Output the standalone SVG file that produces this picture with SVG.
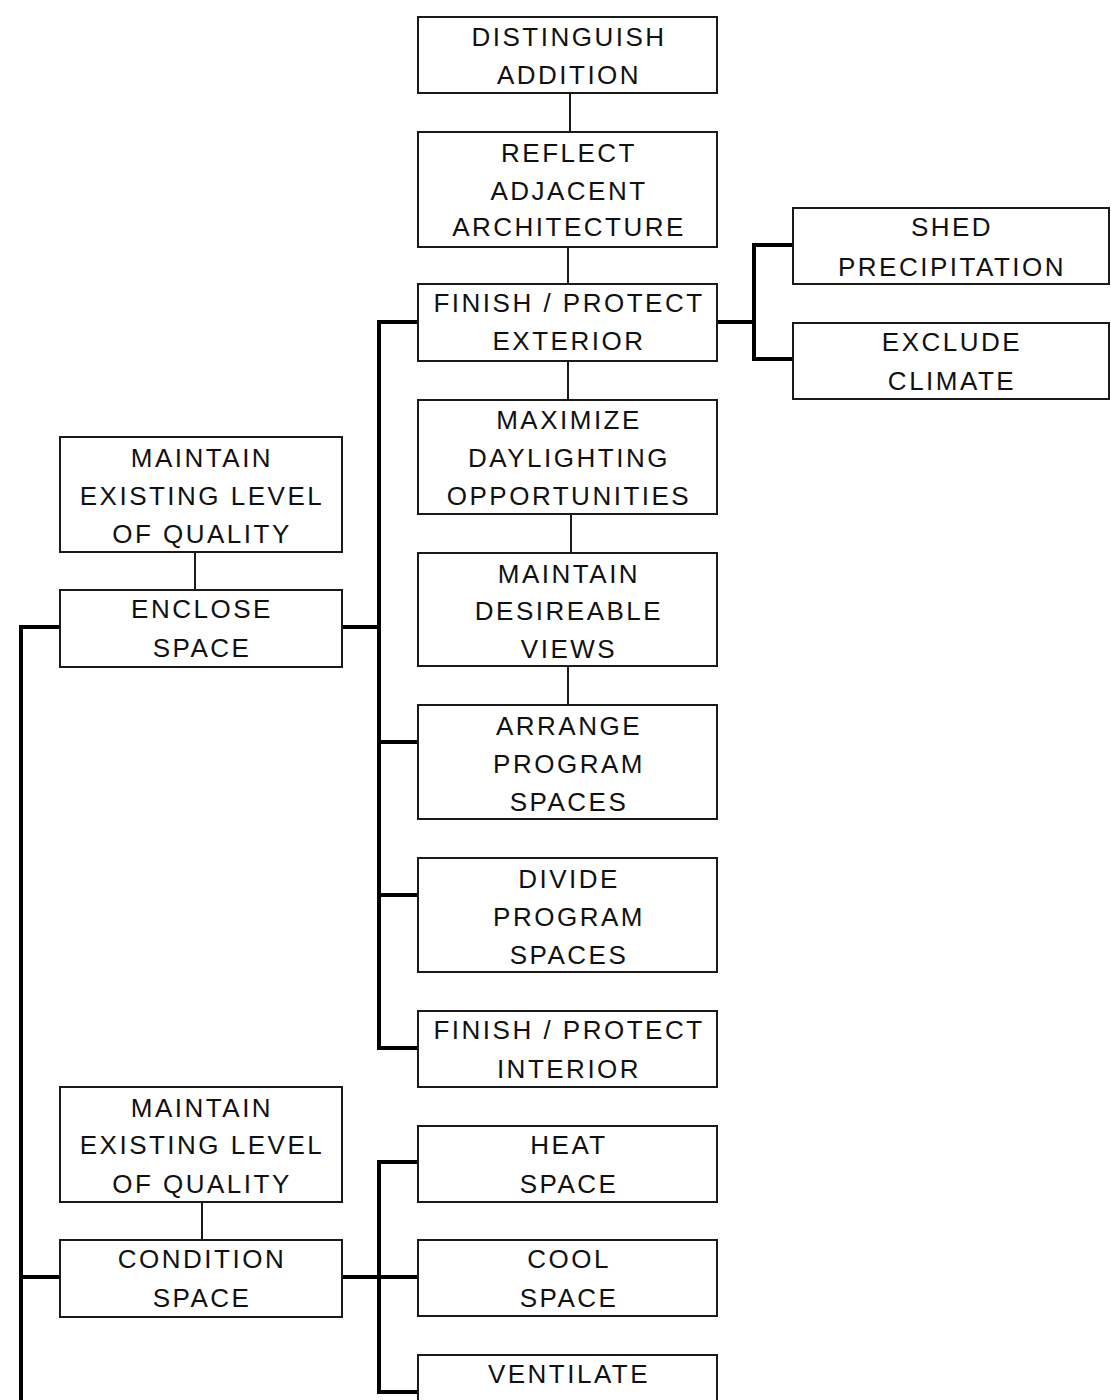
<svg xmlns="http://www.w3.org/2000/svg" width="1111" height="1400" viewBox="0 0 1111 1400">
<style>
.box{fill:#fff;stroke:#1a1a1a;stroke-width:2}
.t{font-family:"Liberation Sans",Arial,sans-serif;font-size:26px;letter-spacing:2.5px;fill:#111;text-anchor:middle}
.thin{stroke:#1a1a1a;stroke-width:2;fill:none}
.thick{stroke:#000;stroke-width:4;fill:none}
</style>
<rect width="1111" height="1400" fill="#fff"/>
<g id="connectors">
<line class="thin" x1="570" y1="93" x2="570" y2="132"/>
<line class="thin" x1="568" y1="247" x2="568" y2="284"/>
<line class="thin" x1="568" y1="361" x2="568" y2="400"/>
<line class="thin" x1="571" y1="514" x2="571" y2="553"/>
<line class="thin" x1="568" y1="666" x2="568" y2="705"/>
<line class="thin" x1="195" y1="552" x2="195" y2="590"/>
<line class="thin" x1="202" y1="1202" x2="202" y2="1240"/>
<polyline class="thick" points="717,322 754,322"/>
<polyline class="thick" points="793,245 754,245 754,359 793,359"/>
<polyline class="thick" points="418,322 379,322 379,1048 418,1048"/>
<line class="thick" x1="342" y1="627" x2="379" y2="627"/>
<line class="thick" x1="379" y1="742" x2="418" y2="742"/>
<line class="thick" x1="379" y1="895" x2="418" y2="895"/>
<polyline class="thick" points="60,627 21,627 21,1400"/>
<line class="thick" x1="21" y1="1277" x2="60" y2="1277"/>
<line class="thick" x1="342" y1="1277" x2="418" y2="1277"/>
<polyline class="thick" points="418,1162 379,1162 379,1392 418,1392"/>
</g>
<g id="n-distinguish"><rect class="box" x="418" y="17" width="299" height="76"/><text class="t" x="569" y="46">DISTINGUISH</text><text class="t" x="569" y="84">ADDITION</text></g>
<g id="n-reflect"><rect class="box" x="418" y="132" width="299" height="115"/><text class="t" x="569" y="162">REFLECT</text><text class="t" x="569" y="200">ADJACENT</text><text class="t" x="569" y="236">ARCHITECTURE</text></g>
<g id="n-finish-ext"><rect class="box" x="418" y="284" width="299" height="77"/><text class="t" x="569" y="312">FINISH / PROTECT</text><text class="t" x="569" y="350">EXTERIOR</text></g>
<g id="n-shed"><rect class="box" x="793" y="208" width="316" height="76"/><text class="t" x="952" y="236">SHED</text><text class="t" x="952" y="276">PRECIPITATION</text></g>
<g id="n-exclude"><rect class="box" x="793" y="323" width="316" height="76"/><text class="t" x="952" y="351">EXCLUDE</text><text class="t" x="952" y="390">CLIMATE</text></g>
<g id="n-maximize"><rect class="box" x="418" y="400" width="299" height="114"/><text class="t" x="569" y="429">MAXIMIZE</text><text class="t" x="569" y="467">DAYLIGHTING</text><text class="t" x="569" y="505">OPPORTUNITIES</text></g>
<g id="n-views"><rect class="box" x="418" y="553" width="299" height="113"/><text class="t" x="569" y="583">MAINTAIN</text><text class="t" x="569" y="620">DESIREABLE</text><text class="t" x="569" y="658">VIEWS</text></g>
<g id="n-arrange"><rect class="box" x="418" y="705" width="299" height="114"/><text class="t" x="569" y="735">ARRANGE</text><text class="t" x="569" y="773">PROGRAM</text><text class="t" x="569" y="811">SPACES</text></g>
<g id="n-divide"><rect class="box" x="418" y="858" width="299" height="114"/><text class="t" x="569" y="888">DIVIDE</text><text class="t" x="569" y="926">PROGRAM</text><text class="t" x="569" y="964">SPACES</text></g>
<g id="n-finish-int"><rect class="box" x="418" y="1011" width="299" height="76"/><text class="t" x="569" y="1039">FINISH / PROTECT</text><text class="t" x="569" y="1078">INTERIOR</text></g>
<g id="n-heat"><rect class="box" x="418" y="1126" width="299" height="76"/><text class="t" x="569" y="1154">HEAT</text><text class="t" x="569" y="1193">SPACE</text></g>
<g id="n-cool"><rect class="box" x="418" y="1240" width="299" height="76"/><text class="t" x="569" y="1268">COOL</text><text class="t" x="569" y="1307">SPACE</text></g>
<g id="n-ventilate"><rect class="box" x="418" y="1355" width="299" height="76"/><text class="t" x="569" y="1383">VENTILATE</text><text class="t" x="569" y="1422">SPACE</text></g>
<g id="n-maintain1"><rect class="box" x="60" y="437" width="282" height="115"/><text class="t" x="202" y="467">MAINTAIN</text><text class="t" x="202" y="505">EXISTING LEVEL</text><text class="t" x="202" y="543">OF QUALITY</text></g>
<g id="n-enclose"><rect class="box" x="60" y="590" width="282" height="77"/><text class="t" x="202" y="618">ENCLOSE</text><text class="t" x="202" y="657">SPACE</text></g>
<g id="n-maintain2"><rect class="box" x="60" y="1087" width="282" height="115"/><text class="t" x="202" y="1117">MAINTAIN</text><text class="t" x="202" y="1154">EXISTING LEVEL</text><text class="t" x="202" y="1193">OF QUALITY</text></g>
<g id="n-condition"><rect class="box" x="60" y="1240" width="282" height="77"/><text class="t" x="202" y="1268">CONDITION</text><text class="t" x="202" y="1307">SPACE</text></g>
</svg>
